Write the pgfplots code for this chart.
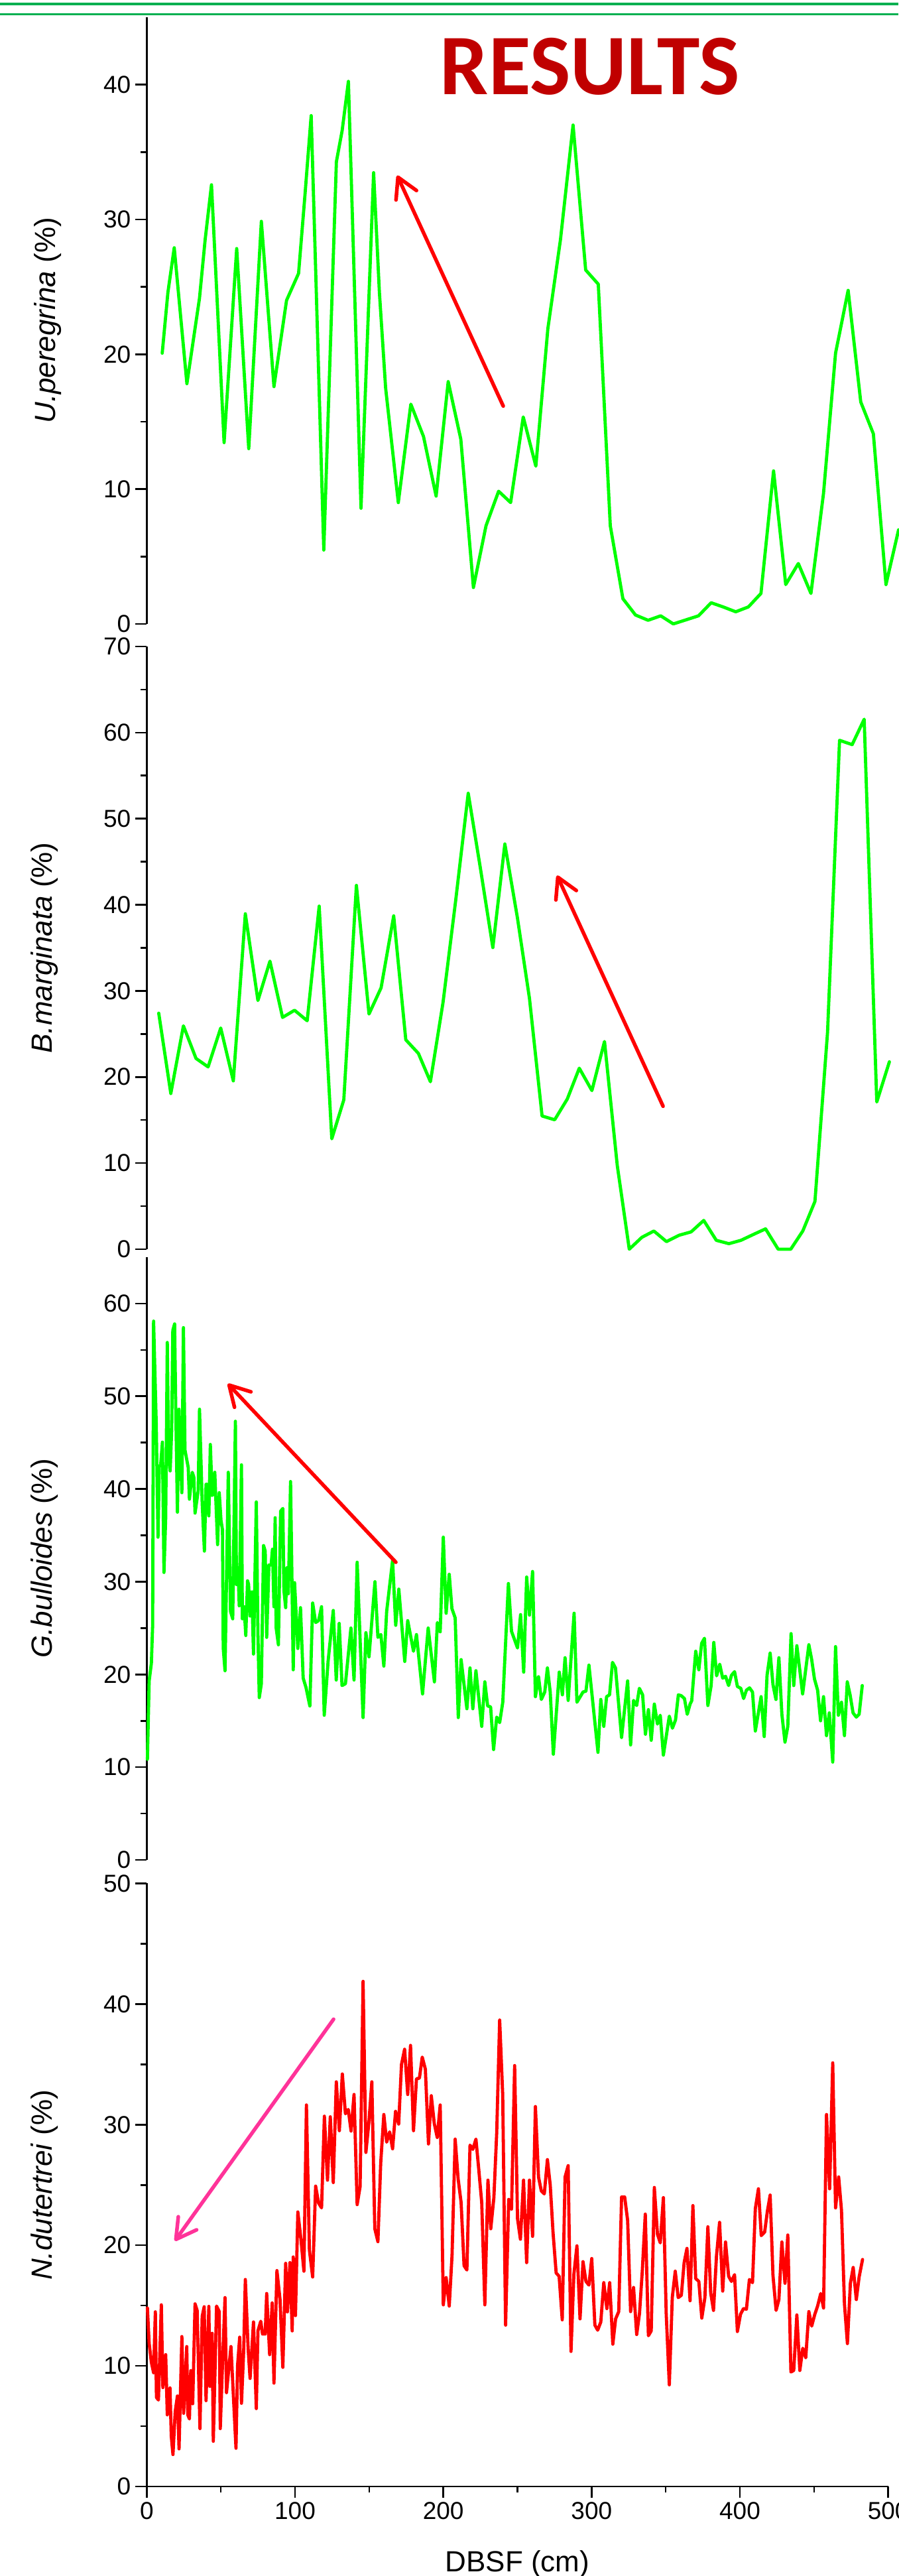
\documentclass[border=0pt]{standalone}
\usepackage{fontspec}
\setmainfont{Liberation Sans}
\newfontfamily\carlito{Carlito}
\usepackage{pgfplots}
\pgfplotsset{compat=1.18}
\usetikzlibrary{arrows.meta}

\definecolor{lgreen}{RGB}{0,255,0}
\definecolor{lred}{RGB}{255,0,0}
\definecolor{arrred}{RGB}{255,0,0}
\definecolor{arrpink}{RGB}{255,51,153}
\definecolor{resred}{RGB}{192,0,0}
\definecolor{bargreen}{RGB}{0,176,80}

\pgfplotsset{
  panel/.style={
    scale only axis, width=559.2pt,
    xmin=0, xmax=500, clip=false,
    axis y line*=left,
    axis line style={-, line width=1.3pt},
    tick align=outside,
    major tick length=8.5pt, minor tick length=4.5pt,
    tick style={line width=1.3pt, black},
    tick label style={font=\fontsize{18.5}{18.5}\selectfont},
    /pgf/number format/assume math mode=true,
    every axis y label/.style={rotate=90, anchor=center, font=\fontsize{22}{22}\selectfont},
    every axis plot/.append style={line width=2.4pt, line join=round, line cap=round},
  },
}
\tikzset{arr/.style={line width=2.75pt, line cap=round, -{Straight Barb[length=15pt, width=17pt, round]}}}

\begin{document}
\begin{tikzpicture}[x=1pt,y=1pt]

% top bars and title
\draw[bargreen, line width=1.75pt] (0,1939.5) -- (677.5,1939.5);
\draw[bargreen, line width=1.75pt] (0,1931.8) -- (677.5,1931.8);
\node[anchor=base, text=resred, font=\carlito\bfseries\fontsize{65}{65}\selectfont] at (445,1871) {RESULTS};

% U. peregrina
\begin{axis}[panel, axis x line=none, at={(110.65pt,1472pt)}, anchor=south west, height=457.5pt,
  ymin=0, ymax=45, ytick={0,10,20,30,40}, minor ytick={5,15,25,35},
  ylabel={\textit{U.peregrina} (\%)},
  ylabel style={at={([xshift=-74.4pt]axis description cs:0,0.5)}}]
\addplot[lgreen] coordinates {
(10.45,20.08) (14.3,24.6) (18.56,27.9) (27.1,17.82) (35.57,24.14) (39.4,28.5)
(43.68,32.57) (52.18,13.45) (60.68,27.84) (68.8,13.0) (77.3,29.86) (85.8,17.6)
(94.3,24.0) (102.4,26.0) (106.7,31.8) (110.9,37.7) (119.4,5.48) (127.9,34.28)
(131.8,36.6) (136.0,40.24) (144.5,8.58) (153.0,33.47) (156.9,24.6) (161.1,17.5)
(169.65,9.0) (178.1,16.3) (186.65,13.9) (195.15,9.48) (203.3,17.97) (211.8,13.7)
(220.3,2.7) (228.8,7.28) (237.3,9.84) (245.4,9.0) (253.9,15.35) (262.4,11.7)
(270.5,21.9) (279.0,28.5) (287.5,37.0) (296.0,26.25) (304.5,25.2) (312.6,7.28)
(321.1,1.87) (329.6,0.66) (338.1,0.27) (346.6,0.6) (355.1,0) (363.6,0.3)
(372.1,0.6) (380.6,1.57) (388.7,1.26) (397.2,0.9) (405.7,1.26) (414.2,2.26)
(422.7,11.35) (430.9,2.92) (439.4,4.48) (447.9,2.26) (456.4,9.7) (464.5,20.08)
(473.0,24.74) (481.5,16.46) (490.0,14.1) (498.5,2.92) (507.0,6.98)
};
\draw[arr, arrred] (axis cs:240.4,16.16) -- (axis cs:168.9,33.26);
\end{axis}

% B. marginata
\begin{axis}[panel, axis x line=none, at={(110.65pt,1000.5pt)}, anchor=south west, height=454.5pt,
  ymin=0, ymax=70, ytick={0,10,...,70}, minor ytick={5,15,...,65},
  ylabel={\textit{B.marginata} (\%)},
  ylabel style={at={([xshift=-77.15pt]axis description cs:0,0.5)}}]
\addplot[lgreen] coordinates {
(8.1,27.41) (16.25,18.08) (24.75,25.94) (33.25,22.15) (41.4,21.17) (49.9,25.69)
(58.4,19.55) (66.5,38.95) (75.0,28.88) (83.1,33.45) (91.6,26.92) (99.7,27.75)
(108.2,26.53) (116.3,39.84) (124.8,12.82) (132.9,17.34) (141.4,42.25) (149.9,27.31)
(158.05,30.36) (166.55,38.71) (174.7,24.32) (183.2,22.74) (191.3,19.45) (199.8,28.64)
(208.3,40.43) (216.8,52.95) (224.9,44.36) (233.4,35.03) (241.5,47.06) (250.0,38.46)
(258.1,29.13) (266.6,15.47) (275.1,15.03) (283.6,17.44) (291.7,21.02) (300.2,18.42)
(308.7,24.12) (317.3,9.73) (325.4,0) (333.9,1.38) (342.0,2.11) (350.5,0.88)
(359.0,1.62) (367.1,2.01) (375.6,3.34) (384.1,1.03) (392.6,0.64) (400.7,1.03)
(409.2,1.72) (417.3,2.36) (425.8,0) (434.3,0) (442.4,2.11) (450.6,5.55)
(459.1,25.2) (467.2,59.1) (475.7,58.6) (483.8,61.55) (492.3,17.1) (500.8,21.76)
};
\draw[arr, arrred] (axis cs:348.2,16.6) -- (axis cs:276.7,43.4);
\end{axis}

% G. bulloides
\begin{axis}[panel, axis x line=none, at={(110.65pt,540pt)}, anchor=south west, height=454.5pt,
  ymin=0, ymax=65, ytick={0,10,...,60}, minor ytick={5,15,...,55},
  ylabel={\textit{G.bulloides} (\%)},
  ylabel style={at={([xshift=-77.15pt]axis description cs:0,0.5)}}]
\addplot[lgreen] coordinates {
(0.46,10.85) (1.65,19.3) (3.14,21.2) (4.0,25.3) (4.63,58.1) (6.42,47.0) (7.61,34.8)
(8.5,42.4) (9.4,42.6) (10.59,45.05) (11.63,31.0) (12.8,36.9) (13.87,55.8) (14.76,43.7)
(15.8,41.95) (16.85,46.4) (17.6,57.1) (18.8,57.8) (19.5,49.6) (20.7,37.5) (21.8,48.6)
(22.5,44.7) (23.7,39.6) (24.75,57.4) (25.8,44.2) (28.0,42.3) (28.8,38.9) (30.7,41.8)
(31.75,41.3) (32.6,37.4) (34.7,39.8) (35.6,48.6) (37.4,38.5) (38.9,33.3) (40.0,40.5)
(40.7,40.5) (41.9,37.1) (42.9,44.8) (44.1,39.3) (44.6,39.4) (45.9,41.8) (47.8,34.0)
(48.9,39.6) (50.1,36.6) (51.1,35.6) (51.6,22.85) (52.8,20.4) (55.0,41.8) (56.5,26.8)
(58.0,26.0) (59.8,47.3) (60.5,29.7) (61.55,31.5) (62.4,27.4) (63.9,42.6) (64.5,26.0)
(65.7,27.3) (66.8,24.2) (68.0,30.1) (68.7,29.7) (69.7,26.3) (70.9,28.9) (72.0,22.2)
(73.9,38.6) (75.0,24.3) (75.9,17.5) (77.3,19.0) (78.8,33.9) (79.9,33.3) (80.9,24.0)
(82.4,31.8) (83.9,31.8) (84.8,33.5) (85.8,27.3) (86.6,36.9) (87.3,25.0) (88.8,23.2)
(90.3,37.6) (91.8,37.9) (92.5,29.1) (93.7,27.2) (94.5,31.5) (95.5,28.7) (97.0,40.8)
(98.8,20.5) (99.7,29.9) (101.9,22.8) (103.7,27.2) (105.5,19.6) (107.4,18.6) (110.0,16.6)
(111.9,27.7) (113.9,25.6) (115.9,25.8) (117.9,27.3) (119.7,15.6) (122.3,21.4) (125.8,26.9)
(127.8,19.4) (129.8,25.5) (131.7,18.8) (134.0,19.0) (137.7,25.0) (139.8,19.4) (141.9,32.1)
(145.9,15.35) (147.8,24.5) (149.9,21.9) (153.9,30.0) (155.9,24.0) (157.9,24.3) (159.9,20.9)
(161.8,26.8) (165.8,32.3) (167.9,25.3) (170.0,29.2) (174.0,21.4) (176.0,25.8) (179.9,22.5)
(181.9,24.3) (186.0,17.9) (189.8,25.0) (194.0,19.2) (196.0,25.6) (197.9,24.6) (200.0,34.8)
(201.9,26.6) (204.0,30.8) (205.8,27.1) (208.0,26.1) (210.1,15.35) (212.0,21.6) (215.9,16.3)
(218.0,20.7) (219.9,16.3) (222.0,20.4) (225.9,14.4) (228.0,19.2) (229.9,16.6) (231.9,16.5)
(233.9,11.9) (236.0,15.4) (238.0,14.8) (240.1,17.0) (243.9,29.8) (246.0,24.65) (250.05,22.85)
(252.1,26.45) (254.2,20.25) (256.2,30.5) (258.1,26.4) (260.2,31.1) (262.1,17.6) (264.2,19.75)
(266.1,17.3) (268.4,18.1) (270.2,20.7) (272.1,18.1) (274.2,11.4) (278.2,20.25) (280.3,17.8)
(282.1,21.8) (284.2,17.2) (288.2,26.6) (290.1,17.0) (294.2,18.1) (296.2,18.2) (298.2,21.0)
(304.3,11.6) (306.2,17.3) (308.2,14.4) (310.1,17.6) (312.1,17.8) (314.1,21.3) (316.1,20.7)
(320.2,13.2) (324.3,19.3) (326.3,12.4) (328.3,17.2) (330.4,16.65) (332.2,18.5) (334.4,17.8)
(336.3,13.55) (338.3,16.2) (340.2,12.9) (342.3,16.8) (344.4,14.65) (346.3,15.6) (348.4,11.3)
(352.4,15.5) (354.5,14.2) (356.6,15.1) (358.5,17.8) (360.5,17.7) (362.6,17.4) (364.5,15.7)
(366.4,16.8) (367.5,17.15) (370.2,22.5) (372.3,20.5) (374.2,23.35) (376.1,23.9) (378.4,16.65)
(380.6,18.8) (382.4,23.45) (384.3,19.85) (386.4,21.1) (388.4,19.6) (390.3,19.8) (392.4,18.8)
(394.3,19.9) (396.4,20.3) (398.3,18.7) (400.6,18.5) (402.5,17.4) (404.4,18.3) (406.5,18.55)
(408.5,18.1) (410.4,13.9) (414.3,17.6) (416.4,13.3) (418.3,19.9) (420.4,22.3) (422.3,18.9)
(424.3,17.3) (426.3,21.8) (428.3,15.7) (430.4,12.7) (432.3,14.4) (434.5,24.4) (436.3,18.8)
(438.4,23.1) (442.3,17.9) (446.5,23.2) (448.4,21.6) (450.3,19.5) (452.4,18.3) (454.4,15.0)
(456.4,17.6) (458.4,13.4) (460.3,15.85) (462.6,10.55) (464.5,23.0) (466.4,15.6) (468.5,17.0)
(470.5,13.4) (472.4,19.2) (474.3,17.8) (476.3,15.85) (478.5,15.4) (480.4,15.7) (482.5,18.8)
};
\draw[arr, arrred] (axis cs:168.0,32.1) -- (axis cs:54.7,51.35);
\end{axis}

% N. dutertrei
\begin{axis}[panel, axis x line*=bottom, at={(110.65pt,67.5pt)}, anchor=south west, height=454.75pt,
  ymin=0, ymax=50, ytick={0,10,...,50}, minor ytick={5,15,...,45},
  xtick={0,100,...,500}, minor xtick={50,150,...,450},
  ylabel={\textit{N.dutertrei} (\%)},
  ylabel style={at={([xshift=-77.15pt]axis description cs:0,0.5)}},
  xlabel={DBSF (cm)},
  every axis x label/.style={at={([yshift=-64.25pt]axis description cs:0.5,0)}, anchor=base, font=\fontsize{22}{22}\selectfont}]
\addplot[lred] coordinates {
(0.46,14.8) (1.65,11.85) (3.14,10.3) (4.63,9.43) (5.82,14.48) (6.57,7.38) (7.9,7.17)
(9.85,15.06) (10.9,8.2) (12.8,10.93) (13.87,5.94) (15.7,8.17) (16.55,4.2) (17.7,2.65)
(19.2,6.2) (20.7,7.5) (21.8,3.12) (23.7,12.43) (24.9,6.07) (27.0,11.6) (27.7,5.94)
(28.8,5.6) (29.7,9.6) (31.0,6.86) (32.6,15.14) (34.0,14.6) (35.9,4.8) (37.4,14.1)
(38.75,14.9) (40.0,7.12) (41.9,14.93) (42.6,8.3) (44.1,12.7) (44.9,3.75) (47.1,14.96)
(48.9,14.5) (49.6,4.8) (51.1,10.1) (52.8,15.66) (53.8,7.78) (56.8,11.6) (60.2,3.17)
(61.25,10.0) (62.7,12.38) (63.9,6.9) (65.4,11.3) (66.5,17.16) (68.4,11.4) (69.7,8.96)
(72.0,13.64) (73.9,6.46) (75.0,12.9) (76.9,13.7) (78.1,12.64) (79.9,12.64) (80.9,16.0)
(82.9,10.93) (84.6,15.22) (85.8,8.57) (87.8,17.9) (89.9,15.5) (91.8,9.88) (93.7,18.5)
(94.9,14.48) (96.6,18.56) (98.1,12.9) (98.8,19.03) (100.3,14.17) (101.9,22.76) (104.0,20.5)
(106.0,17.85) (107.7,31.63) (109.7,19.6) (111.9,17.37) (113.9,24.9) (115.9,23.5) (117.9,23.1)
(119.8,30.7) (121.9,25.4) (123.8,30.65) (125.8,25.2) (127.85,33.55) (129.9,29.5) (131.9,34.2)
(134.0,30.9) (135.9,31.26) (137.8,29.47) (139.8,32.5) (141.9,23.37) (143.9,24.87) (145.9,41.88)
(147.8,27.7) (149.9,30.3) (151.8,33.55) (153.8,21.37) (155.9,20.3) (157.8,26.84) (159.9,30.84)
(161.8,28.55) (163.8,29.4) (165.8,28.0) (167.8,31.1) (169.9,30.05) (171.8,34.99) (173.9,36.25)
(176.0,32.5) (177.9,36.57) (179.9,29.5) (181.9,33.8) (183.9,33.86) (185.8,35.6) (187.9,34.6)
(190.0,28.4) (191.9,32.4) (193.9,30.1) (195.9,28.94) (197.9,31.63) (200.0,15.06) (201.9,17.32)
(204.0,14.96) (205.9,19.2) (208.0,28.8) (210.0,25.5) (212.0,23.55) (214.0,18.3) (215.9,17.95)
(218.0,28.3) (219.9,27.95) (222.0,28.8) (223.9,26.3) (225.9,23.55) (228.0,15.06) (230.1,25.4)
(232.0,21.37) (234.1,23.95) (236.0,29.3) (238.0,38.67) (240.05,32.5) (242.0,13.38) (244.1,23.8)
(246.0,23.0) (248.1,34.9) (250.05,22.2) (252.0,20.5) (254.1,25.4) (256.2,18.56) (258.1,25.4)
(260.2,20.74) (262.1,31.5) (264.2,25.66) (266.1,24.5) (268.1,24.26) (270.2,27.1) (272.1,25.0)
(274.0,21.05) (276.1,17.7) (278.1,17.43) (280.2,13.82) (282.1,25.66) (284.2,26.6) (286.1,11.2)
(288.05,17.6) (290.1,19.95) (292.2,13.9) (294.2,18.64) (296.2,17.0) (298.2,16.7) (300.1,18.9)
(302.2,13.38) (304.1,12.96) (306.2,13.64) (308.2,16.9) (310.3,14.75) (312.2,16.9) (314.3,11.8)
(316.2,13.9) (318.3,14.5) (320.2,24.0) (322.3,24.0) (324.3,22.05) (326.3,14.5) (328.3,16.5)
(330.4,12.6) (332.3,14.35) (334.2,17.9) (336.2,22.58) (338.3,12.5) (340.2,12.9) (342.3,24.79)
(344.4,20.92) (346.3,20.2) (348.4,23.95) (350.3,14.35) (352.4,8.43) (354.4,15.66) (356.4,17.85)
(358.4,15.66) (360.5,15.85) (362.4,18.56) (364.3,19.74) (366.4,15.4) (368.3,23.29) (370.2,17.24)
(372.3,17.0) (374.3,13.96) (376.4,15.66) (378.4,21.53) (380.3,16.06) (382.2,14.6) (384.2,19.1)
(386.3,21.9) (388.4,16.2) (390.3,20.27) (392.4,17.43) (394.3,17.0) (396.4,17.56) (398.3,12.85)
(400.4,14.27) (402.4,14.75) (404.4,14.7) (406.4,17.16) (408.5,16.9) (410.4,23.03) (412.5,24.68)
(414.4,20.8) (416.7,21.1) (418.5,22.8) (420.4,24.16) (422.3,17.5) (424.4,14.6) (426.3,15.5)
(428.3,20.27) (430.4,16.85) (432.3,20.85) (434.4,9.49) (436.3,9.62) (438.4,14.22) (440.4,9.62)
(442.4,11.46) (444.4,10.67) (446.5,14.5) (448.4,13.3) (450.5,14.27) (452.4,14.96) (454.5,16.0)
(456.4,14.8) (458.4,30.84) (460.5,24.68) (462.6,35.12) (464.5,23.1) (466.6,25.66) (468.5,22.9)
(470.5,15.14) (472.5,11.85) (474.5,16.85) (476.4,18.16) (478.5,15.5) (480.4,17.37) (482.7,18.82)
};
\draw[arr, arrpink] (axis cs:126.0,38.74) -- (axis cs:18.95,20.36);
\end{axis}

\pgfresetboundingbox
\path[use as bounding box] (0,0) rectangle (677.5,1942.5);
\end{tikzpicture}
\end{document}
